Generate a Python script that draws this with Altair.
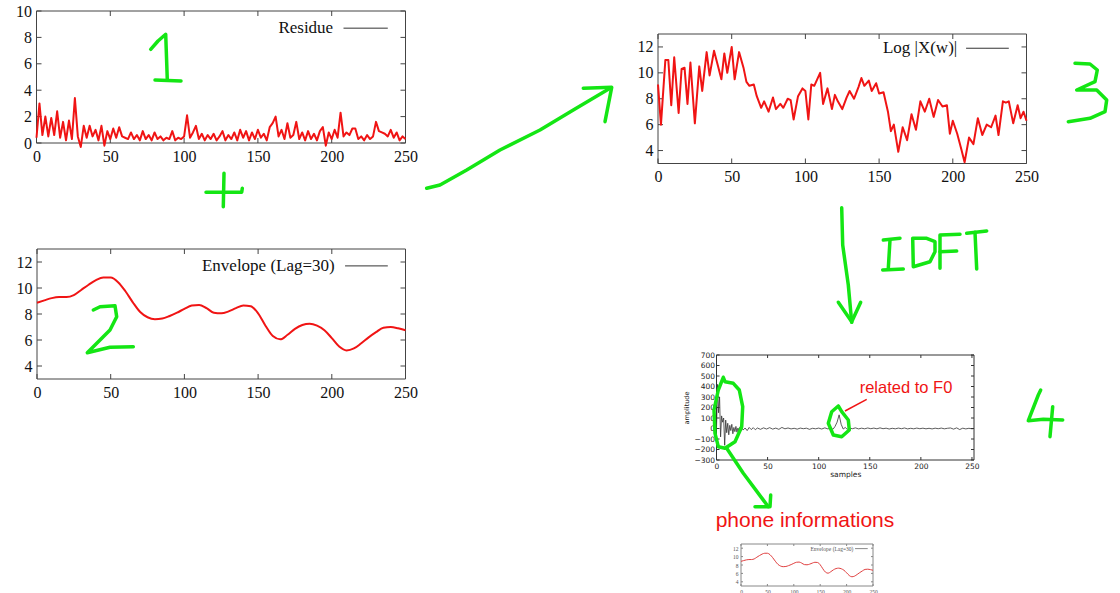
import altair as alt
import pandas as pd

W, H = 1120, 593

# ---------------- data ----------------
residue_x = list(range(0, 251, 2))
residue_y = [0.4, 3.0, 0.6, 2.0, 0.5, 1.9, 0.6, 2.4, 0.4, 1.6, 0.2, 1.7, 0.3, 3.4, 0.5, -0.3,
             1.3, 0.4, 1.3, 0.5, 1.0, 0.2, 1.3, -0.2, 0.9, 0.3, 1.1, 0.4, 1.2, 0.5, 0.4, 0.3,
             0.8, 0.3, 0.6, 0.2, 0.9, 0.3, 0.6, 0.2, 0.8, 0.3, 0.5, 0.2, 0.4, 0.3, 0.9, 0.2,
             0.4, 0.3, 0.5, 2.1, 0.4, 0.8, 1.3, 0.3, 0.7, 0.2, 0.6, 0.3, 0.7, 0.2, 0.5, 0.9,
             0.2, 0.6, 0.3, 0.8, 0.2, 1.0, 0.4, 0.9, 0.2, 0.8, 0.3, 1.0, 0.4, 0.7, 0.2, 1.2,
             1.5, 2.0, 0.5, 1.0, 0.3, 1.5, 0.4, 0.6, 1.6, 0.3, 0.8, 0.2, 0.9, 0.3, 0.7, 0.2,
             0.9, 1.2, -0.2, 0.8, 0.3, 1.0, 0.4, 2.3, 0.5, 0.8, 0.6, 1.1, 1.1, 0.3, 0.5, 0.2,
             0.6, 0.3, 0.5, 1.6, 0.9, 0.8, 0.7, 0.5, 1.0, 0.4, 0.8, 0.2, 0.5, 0.3]

envelope_x = list(range(0, 251, 5))
envelope_y = [8.87, 9.05, 9.22, 9.3, 9.3, 9.45, 9.85, 10.25, 10.6, 10.8, 10.8, 10.45, 9.75,
              8.9, 8.15, 7.75, 7.6, 7.65, 7.85, 8.1, 8.4, 8.65, 8.7, 8.45, 8.1, 8.05, 8.2,
              8.45, 8.65, 8.6, 8.05, 7.1, 6.3, 6.05, 6.4, 6.85, 7.15, 7.25, 7.1, 6.75, 6.15,
              5.5, 5.2, 5.35, 5.75, 6.2, 6.6, 6.95, 7.0, 6.9, 6.75]

logx_x = [0, 2, 5, 7, 9, 11, 14, 16, 18, 20, 22, 25, 28, 30, 33, 35, 38, 41, 43, 45, 47, 50,
          52, 55, 58, 60, 62, 65, 67, 70, 72, 75, 78, 80, 83, 85, 88, 90, 92, 95, 98, 100,
          102, 104, 106, 108, 110, 112, 115, 118, 120, 122, 125, 128, 130, 133, 136, 138,
          140, 143, 145, 148, 150, 153, 156, 158, 160, 163, 166, 169, 172, 175, 178, 181,
          184, 187, 190, 193, 196, 198, 200, 203, 206, 208, 211, 214, 217, 220, 223, 226,
          229, 231, 234, 236, 238, 241, 244, 246, 248, 250]
logx_y = [9.1, 6.0, 11.0, 11.0, 7.5, 11.2, 6.9, 10.3, 10.4, 7.6, 10.8, 6.1, 10.5, 8.6, 11.6,
          9.8, 11.7, 10.4, 9.5, 11.5, 10.0, 12.0, 9.5, 11.6, 10.4, 9.3, 9.0, 9.1, 8.2, 7.3,
          7.8, 7.0, 8.1, 7.2, 7.6, 7.3, 8.0, 7.9, 6.4, 8.2, 8.8, 8.6, 6.4, 9.1, 9.0, 9.5,
          10.0, 7.6, 8.8, 7.2, 8.3, 7.8, 7.2, 8.1, 8.6, 8.0, 8.9, 9.6, 9.0, 9.4, 8.6, 9.2,
          8.4, 8.5, 7.0, 5.5, 6.0, 3.9, 5.8, 4.8, 6.8, 5.6, 7.8, 7.0, 8.0, 6.6, 7.9, 7.4,
          7.5, 5.3, 6.3, 5.3, 4.0, 3.1, 5.0, 4.5, 6.5, 5.2, 6.0, 5.8, 6.7, 5.2, 7.8, 7.7,
          7.8, 6.1, 7.5, 6.5, 7.0, 6.3]

cep_x = [0, 1, 2, 3, 4, 5, 6, 7, 8, 9, 10, 11, 12, 13, 14, 15, 16, 17, 18, 19, 20, 21, 22,
         23, 24, 25, 26, 28, 30, 32, 34, 36, 38, 40, 43, 46, 49, 52, 55, 58, 61, 64, 67, 70,
         73, 76, 79, 82, 85, 88, 91, 94, 97, 100, 103, 106, 109, 112, 114, 116, 118, 120,
         122, 124, 126, 128, 130, 133, 136, 139, 142, 145, 148, 151, 154, 157, 160, 163,
         166, 169, 172, 175, 178, 181, 184, 187, 190, 193, 196, 199, 202, 205, 208, 211,
         214, 217, 220, 223, 226, 229, 232, 235, 238, 241, 244, 247, 250, 252]
cep_y = [0, 420, 150, 300, -80, 120, 60, 100, -160, 80, -40, 50, -60, 30, -20, 40, -50, 10,
         -30, 20, -35, 5, -25, 15, -20, 10, -15, 5, -20, 10, -10, 8, -12, 5, -8, 6, -5, 8,
         -6, 4, -8, 10, -3, 5, -4, 2, -6, 4, -2, 3, -8, 2, -3, 4, -5, 6, -4, 5, -8, 20, 60,
         130, 40, -5, 10, -8, 4, -2, 6, -4, 3, -3, 5, -2, 4, -3, 6, -2, 3, -5, 2, -3, 4, -2,
         5, -4, 2, -3, 4, -2, 3, -3, 2, -4, 3, -2, 4, -3, 2, 5, -6, 6, -10, 3, -4, 2, -3, 0]

ticks_250 = [0, 50, 100, 150, 200, 250]
ticks_res = [0, 2, 4, 6, 8, 10]
ticks_env = [4, 6, 8, 10, 12]
ticks_cep = [-300, -200, -100, 0, 100, 200, 300, 400, 500, 600, 700]

# hand-drawn green annotation strokes (page pixels)
stroke_one = [[(150.7, 49.3), (158, 41), (165.7, 34.3), (166.5, 57), (167.3, 80)],
              [(155, 80), (168, 80.5), (181, 81)]]
stroke_plus = [[(224, 173.3), (223.3, 206.7)], [(206, 192.3), (241.7, 192.3), (242.3, 188.3)]]
stroke_two = [[(93.3, 310), (100, 306.7), (115, 305.7), (116.7, 316.7), (110, 330),
               (87.3, 352.7), (110, 347.3), (133.3, 346.7)]]
stroke_arrow13 = [[(426.7, 188.3), (440, 185), (466.7, 170), (500, 150), (540, 130),
                   (573.3, 110), (610, 88.3)],
                  [(583.3, 88.3), (611.7, 87.3), (605, 121.7)]]
stroke_three = [[(1075, 63.3), (1090, 64), (1097.3, 70), (1095, 81.7), (1076.7, 90),
                 (1096.7, 90), (1106.7, 100), (1105, 111.7), (1090, 118.3), (1068.3, 121.7)]]
stroke_down = [[(841.7, 207.7), (842.7, 245), (848.3, 285), (851.7, 322.3)],
               [(838.3, 302.3), (851.7, 321.7), (860.7, 302.3)]]
stroke_idft = [[(883.3, 240), (900, 238.3)], [(890, 240), (888.3, 268.3)],
               [(882.7, 270), (903.3, 269)],
               [(912.7, 238.3), (913.3, 266.7), (930, 261.7), (935, 251.7), (935, 241.7),
                (926.7, 238.3), (912.7, 238.3)],
               [(940, 268.3), (940, 235), (960, 234.3)], [(940, 251.7), (956.7, 251)],
               [(966.7, 233.3), (986.7, 231)], [(975, 232.3), (976.7, 269)]]
stroke_four = [[(1040.7, 390), (1038.3, 395), (1028.3, 420.7), (1043.3, 419.3), (1062.7, 420)],
               [(1052.7, 406.7), (1050, 436.7)]]
stroke_ellipse = [[(723.3, 377.3), (725, 381.7), (733.3, 383.3), (739.3, 390), (742.7, 406.7),
                   (741.7, 426.7), (735, 441.7), (725, 448.3), (718.3, 446.7), (715, 433.3),
                   (714, 410), (718.3, 390), (723.3, 377.3)],
                  [(726.7, 448.3), (743.3, 473.3), (768.3, 506.7)],
                  [(755, 506.7), (770, 506.7), (770.7, 495)]]
stroke_circle = [[(838.3, 406), (831.7, 411.7), (828.3, 423.3), (833.3, 435), (841.7, 436.7),
                  (849.3, 430), (848.3, 420), (841.7, 411.7), (838.3, 406)]]
red_pointer = [[(845, 411), (866.7, 399.3)]]

notes_text = ["related to F0", "phone informations"]
notes_x = [906, 805]
notes_y = [388, 521]
notes_size = [16.5, 21]

RED = "#f01414"
GREEN = "#14e614"


def panel(xs, ys, xdom, ydom, xr, yr, xticks, yticks, color, width, font, fsize,
          lab_color, frame_color, tick_px, lab_pad, legend=None, interp="linear",
          xtitle="", ytitle="", title_font=None):
    xscale = alt.Scale(domain=xdom, range=xr, nice=False, zero=False)
    yscale = alt.Scale(domain=ydom, range=yr, nice=False, zero=False)
    xaxis = alt.Axis(orient="bottom", offset=-(H - yr[0]), values=xticks, domain=False,
                     ticks=False, grid=False, labelFont=font, labelFontSize=fsize,
                     labelColor=lab_color, labelPadding=lab_pad, labelFlush=False,
                     labelOverlap=False, title=xtitle,
                     titleFont=title_font or font, titleFontSize=fsize,
                     titleFontWeight="normal", titleColor=lab_color, titlePadding=1)
    yaxis = alt.Axis(orient="left", offset=-xr[0], values=yticks, domain=False,
                     ticks=False, grid=False, labelFont=font, labelFontSize=fsize,
                     labelColor=lab_color, labelPadding=lab_pad, labelFlush=False,
                     labelOverlap=False, title=ytitle,
                     titleFont=title_font or font, titleFontSize=fsize - 1,
                     titleFontWeight="normal", titleColor=lab_color, titlePadding=4)

    def X(f):
        return alt.X(f, type="quantitative", scale=xscale, axis=xaxis)

    def Y(f):
        return alt.Y(f, type="quantitative", scale=yscale, axis=yaxis)

    # frame
    fdf = pd.DataFrame({"a": [xdom[0]], "b": [xdom[1]], "c": [ydom[0]], "d": [ydom[1]]})
    frame = alt.Chart(fdf).mark_rect(filled=False, stroke=frame_color, strokeWidth=1).encode(
        x=X("a"), x2="b", y=Y("c"), y2="d")

    # inward ticks on all four sides
    dx = tick_px * (xdom[1] - xdom[0]) / abs(xr[1] - xr[0])
    dy = tick_px * (ydom[1] - ydom[0]) / abs(yr[1] - yr[0])
    rows = []
    for v in xticks:
        rows.append((v, v, ydom[0], ydom[0] + dy))
        rows.append((v, v, ydom[1], ydom[1] - dy))
    for v in yticks:
        rows.append((xdom[0], xdom[0] + dx, v, v))
        rows.append((xdom[1], xdom[1] - dx, v, v))
    tdf = pd.DataFrame(rows, columns=["a", "b", "c", "d"])
    ticks = alt.Chart(tdf).mark_rule(color=frame_color, strokeWidth=1).encode(
        x=X("a"), x2="b", y=Y("c"), y2="d")

    ldf = pd.DataFrame({"x": xs, "y": ys})
    line = alt.Chart(ldf).mark_line(color=color, strokeWidth=width, interpolate=interp,
                                    strokeJoin="round").encode(x=X("x"), y=Y("y"))
    layers = [frame, ticks, line]
    if legend is not None:
        label, lx_end, l1, l2, ly, lsize, lcol = legend
        tdf2 = pd.DataFrame({"x": [lx_end], "y": [ly], "t": [label]})
        txt = alt.Chart(tdf2).mark_text(align="right", baseline="middle", font=font,
                                        fontSize=lsize, color=lab_color).encode(
            x=X("x"), y=Y("y"), text="t:N")
        rdf = pd.DataFrame({"a": [l1], "b": [l2], "c": [ly]})
        rl = alt.Chart(rdf).mark_rule(color=lcol, strokeWidth=1).encode(
            x=X("a"), x2="b", y=Y("c"))
        layers += [txt, rl]
    return alt.layer(*layers)


serif = "Liberation Serif"

p1 = panel(residue_x, residue_y, [0, 250], [0, 10], [36.5, 405.5], [143, 11],
           ticks_250, ticks_res, RED, 2, serif, 16, "#111", "#444", 5, 5,
           legend=("Residue", 201, 208, 238, 8.7, 17, "#333"))
p2 = panel(envelope_x, envelope_y, [0, 250], [3, 13], [37, 405.5], [379, 249],
           ticks_250, ticks_env, RED, 2, serif, 16, "#111", "#444", 5, 5,
           legend=("Envelope (Lag=30)", 202, 209, 238, 11.7, 17, "#333"), interp="monotone")
p3 = panel(logx_x, logx_y, [0, 250], [3, 13], [658, 1026.5], [163.5, 34],
           ticks_250, ticks_env, RED, 2, serif, 16, "#111", "#444", 5, 5,
           legend=("Log |X(w)|", 203, 209, 238, 11.9, 17, "#333"))
p4 = panel(cep_x, cep_y, [0, 252], [-300, 700], [716.5, 974], [460, 355],
           ticks_250, ticks_cep, "#333", 0.8, "DejaVu Sans", 7.5, "#222", "#333", 3, 2,
           xtitle="samples", ytitle="amplitude")
p5 = panel(envelope_x, envelope_y, [0, 250], [3, 13], [741, 873], [586, 544],
           ticks_250, ticks_env, "#e04040", 1, serif, 5.5, "#555", "#888", 2, 3,
           legend=("Envelope (Lag=30)", 213, 216, 240, 11.9, 5.5, "#888"), interp="monotone")

# annotation layer in page pixels
def strokes_df(groups):
    rows = []
    sid = 0
    for g in groups:
        for s in g:
            for i, (x, y) in enumerate(s):
                rows.append({"sid": sid, "i": i, "x": x, "y": y})
            sid += 1
    return pd.DataFrame(rows)

px = alt.Scale(domain=[0, W], range=[0, W], nice=False, zero=False)
py = alt.Scale(domain=[0, H], range=[0, H], nice=False, zero=False)

green_df = strokes_df([stroke_one, stroke_plus, stroke_two, stroke_arrow13, stroke_three,
                       stroke_down, stroke_idft, stroke_four, stroke_ellipse, stroke_circle])
green = alt.Chart(green_df).mark_line(color=GREEN, strokeWidth=3.5, strokeCap="round",
                                      strokeJoin="round").encode(
    x=alt.X("x:Q", scale=px, axis=None), y=alt.Y("y:Q", scale=py, axis=None),
    detail="sid:N", order="i:Q")
red_df = strokes_df([red_pointer])
redl = alt.Chart(red_df).mark_line(color=RED, strokeWidth=1.5).encode(
    x=alt.X("x:Q", scale=px, axis=None), y=alt.Y("y:Q", scale=py, axis=None),
    detail="sid:N", order="i:Q")
ndf = pd.DataFrame({"t": notes_text, "x": notes_x, "y": notes_y, "s": notes_size})
notes = alt.Chart(ndf).mark_text(font="Liberation Sans", color=RED, align="center",
                                 baseline="middle").encode(
    x=alt.X("x:Q", scale=px, axis=None), y=alt.Y("y:Q", scale=py, axis=None),
    text="t:N", size=alt.Size("s:Q", scale=None, legend=None))
annot = alt.layer(green, redl, notes)

chart = alt.layer(p1, p2, p3, p4, p5, annot).resolve_scale(
    x="independent", y="independent").resolve_axis(
    x="independent", y="independent").properties(
    width=W, height=H, autosize=alt.AutoSizeParams(type="none"), padding=0,
    background="white").configure_view(stroke="transparent")

chart.save("out.html", embed_options={"renderer": "svg", "actions": False})
